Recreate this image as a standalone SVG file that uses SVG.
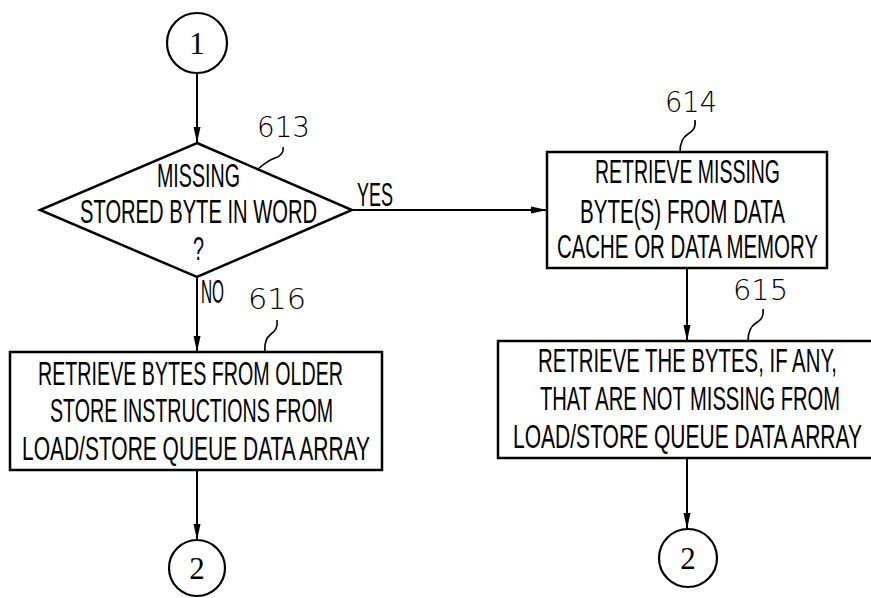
<svg xmlns="http://www.w3.org/2000/svg" width="871" height="598" viewBox="0 0 871 598">
<defs>
<marker id="arr" markerUnits="userSpaceOnUse" markerWidth="18" markerHeight="10" refX="16" refY="5" orient="auto">
<path d="M0,1.5 L16,5 L0,8.5 Z" fill="#000"/>
</marker>
<style>
.ln{stroke:#000;stroke-width:2;fill:none}
.box{stroke:#000;stroke-width:2.5;fill:#fff}
.t{font-family:"Liberation Sans Narrow","Liberation Sans",Arial,sans-serif;font-size:33px;fill:#000}
.ref{font-family:"DejaVu Sans","Liberation Sans",sans-serif;font-size:28px;fill:#000;font-weight:300}
.cn{font-family:"Liberation Serif","DejaVu Serif",serif;font-size:31px;fill:#000;text-anchor:middle}
.lead{stroke:#000;stroke-width:1.6;fill:none}
</style>
</defs>
<rect width="871" height="598" fill="#fff"/>
<g id="connectors">
<line class="ln" x1="197" y1="73" x2="197" y2="143" marker-end="url(#arr)"/>
<line class="ln" x1="352" y1="210" x2="547" y2="210" marker-end="url(#arr)"/>
<line class="ln" x1="197" y1="277" x2="197" y2="352" marker-end="url(#arr)"/>
<line class="ln" x1="687" y1="268" x2="687" y2="341" marker-end="url(#arr)"/>
<line class="ln" x1="197" y1="470" x2="197" y2="540" marker-end="url(#arr)"/>
<line class="ln" x1="687" y1="458" x2="687" y2="529" marker-end="url(#arr)"/>
<text class="t" x="357" y="206" textLength="36" lengthAdjust="spacingAndGlyphs">YES</text>
<text class="t" x="201" y="303" textLength="23" lengthAdjust="spacingAndGlyphs">NO</text>
</g>
<g id="start1">
<circle cx="197" cy="43" r="30" fill="#fff" stroke="#000" stroke-width="2.2"/>
<text class="cn" x="197" y="54">1</text>
</g>
<g id="n613">
<polygon points="197,143 352,210 197,277 40,210" fill="#fff" stroke="#000" stroke-width="2.5"/>
<text class="t" x="157" y="187" textLength="83" lengthAdjust="spacingAndGlyphs">MISSING</text>
<text class="t" x="80" y="223" textLength="237" lengthAdjust="spacingAndGlyphs">STORED BYTE IN WORD</text>
<text class="t" x="193" y="260" textLength="11" lengthAdjust="spacingAndGlyphs">?</text>
<text class="ref" x="257" y="137" textLength="53" lengthAdjust="spacingAndGlyphs">613</text>
<path class="lead" d="M283,147 c1,6 -2,9 -8,11 s-10,5 -17,11"/>
</g>
<g id="n614">
<rect class="box" x="547" y="152" width="280" height="116"/>
<text class="t" x="595" y="183" textLength="185" lengthAdjust="spacingAndGlyphs">RETRIEVE MISSING</text>
<text class="t" x="580" y="223" textLength="205" lengthAdjust="spacingAndGlyphs">BYTE(S) FROM DATA</text>
<text class="t" x="557" y="258" textLength="261" lengthAdjust="spacingAndGlyphs">CACHE OR DATA MEMORY</text>
<text class="ref" x="665" y="112" textLength="52" lengthAdjust="spacingAndGlyphs">614</text>
<path class="lead" d="M695,120 c1,8 -2,11 -7,14 s-8,8 -8,18"/>
</g>
<g id="n615">
<rect class="box" x="498" y="341" width="380" height="117"/>
<text class="t" x="538" y="372" textLength="299" lengthAdjust="spacingAndGlyphs">RETRIEVE THE BYTES, IF ANY,</text>
<text class="t" x="540" y="410" textLength="300" lengthAdjust="spacingAndGlyphs">THAT ARE NOT MISSING FROM</text>
<text class="t" x="513" y="448" textLength="349" lengthAdjust="spacingAndGlyphs">LOAD/STORE QUEUE DATA ARRAY</text>
<text class="ref" x="733" y="300" textLength="55" lengthAdjust="spacingAndGlyphs">615</text>
<path class="lead" d="M763,309 c1,8 -2,11 -7,14 s-8,8 -8,18"/>
</g>
<g id="n616">
<rect class="box" x="10" y="352" width="372" height="118"/>
<text class="t" x="38" y="385" textLength="305" lengthAdjust="spacingAndGlyphs">RETRIEVE BYTES FROM OLDER</text>
<text class="t" x="50" y="422" textLength="283" lengthAdjust="spacingAndGlyphs">STORE INSTRUCTIONS FROM</text>
<text class="t" x="22" y="460" textLength="348" lengthAdjust="spacingAndGlyphs">LOAD/STORE QUEUE DATA ARRAY</text>
<text class="ref" x="248" y="309" textLength="58" lengthAdjust="spacingAndGlyphs">616</text>
<path class="lead" d="M277,320 c1,8 -2,11 -6,14 s-7,8 -6,18"/>
</g>
<g id="end2a">
<circle cx="197" cy="568" r="28" fill="#fff" stroke="#000" stroke-width="2.2"/>
<text class="cn" x="197" y="579">2</text>
</g>
<g id="end2b">
<circle cx="688" cy="558" r="29" fill="#fff" stroke="#000" stroke-width="2.2"/>
<text class="cn" x="688" y="569">2</text>
</g>
</svg>
